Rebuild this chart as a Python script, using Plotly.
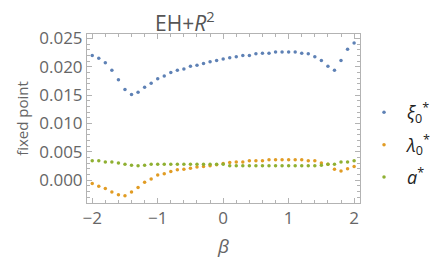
import plotly.graph_objects as go

# beta grid, -2 .. 2 in steps of 0.1
BETA = [round(-2 + 0.1 * i, 1) for i in range(41)]

XI0 = [0.0220, 0.0215, 0.0207, 0.0194, 0.0177, 0.0160, 0.0151, 0.0155, 0.0164, 0.0171,
       0.0179, 0.0184, 0.0190, 0.0194, 0.0196, 0.0201, 0.0203, 0.0206, 0.0209, 0.0211,
       0.0214, 0.0216, 0.0218, 0.0220, 0.0220, 0.0223, 0.0224, 0.0224, 0.0226, 0.0226,
       0.0226, 0.0226, 0.0224, 0.0223, 0.0218, 0.0211, 0.0201, 0.0194, 0.0211, 0.0231,
       0.0242]

LAMBDA0 = [-0.0006, -0.0011, -0.0015, -0.0021, -0.0026, -0.0028, -0.0021, -0.0013, -0.0004, 0.0002,
           0.0009, 0.0011, 0.0015, 0.0018, 0.0019, 0.0021, 0.0023, 0.0024, 0.0025, 0.0027,
           0.0029, 0.0031, 0.0032, 0.0032, 0.0034, 0.0034, 0.0034, 0.0036, 0.0036, 0.0036,
           0.0036, 0.0036, 0.0036, 0.0034, 0.0034, 0.0030, 0.0028, 0.0019, 0.0016, 0.0020,
           0.0024]

A_STAR = [0.0034, 0.0034, 0.0032, 0.0032, 0.0030, 0.0028, 0.0026, 0.0025, 0.0026, 0.0028,
          0.0028, 0.0028, 0.0028, 0.0028, 0.0028, 0.0028, 0.0028, 0.0028, 0.0028, 0.0028,
          0.0028, 0.0025, 0.0025, 0.0025, 0.0025, 0.0025, 0.0025, 0.0025, 0.0025, 0.0025,
          0.0025, 0.0025, 0.0025, 0.0025, 0.0025, 0.0026, 0.0028, 0.0028, 0.0032, 0.0032,
          0.0034]

SERIES = [
    ("<i>ξ</i><sub>0</sub><sup>*</sup>", XI0, "#5E81B5"),
    ("<i>λ</i><sub>0</sub><sup>*</sup>", LAMBDA0, "#E19C24"),
    ("<i>a</i><sup>*</sup>", A_STAR, "#8FB032"),
]

FONT = "Open Sans, DejaVu Sans, sans-serif"
GRAY = "#666666"
FRAME = "#b3b3b3"

fig = go.Figure()
for i, (name, vals, color) in enumerate(SERIES):
    fig.add_trace(go.Scatter(
        x=BETA, y=vals, mode="markers", name=name, legendgroup=str(i),
        marker=dict(color=color, size=3.5),
    ))

axis_common = dict(
    showline=True, linecolor=FRAME, linewidth=1, mirror="ticks",
    ticks="inside", tickcolor=FRAME, ticklen=5, showgrid=False, zeroline=False,
    tickfont=dict(family=FONT, size=17, color=GRAY),
)

fig.update_xaxes(
    range=[-2.08, 2.09], dtick=1, tick0=0,
    minor=dict(dtick=0.2, ticks="inside", ticklen=3, tickcolor=FRAME),
    title=dict(text="<i>β</i>", font=dict(family=FONT, size=19, color=GRAY), standoff=14),
    **axis_common,
)
fig.update_yaxes(
    range=[-0.00406, 0.0258], dtick=0.005, tick0=0, tickformat=".3f",
    minor=dict(dtick=0.001, ticks="inside", ticklen=3, tickcolor=FRAME),
    title=dict(text="fixed point", font=dict(family=FONT, size=15, color=GRAY), standoff=6),
    **axis_common,
)

fig.update_layout(
    width=436, height=259,
    margin=dict(l=87, r=76, t=34, b=56, autoexpand=False),
    paper_bgcolor="white", plot_bgcolor="white",
    title=dict(text="EH+<i>R</i><sup>2</sup>", x=0.424, xanchor="center",
               y=0.91, yanchor="middle", font=dict(family=FONT, size=21, color="#555555")),
    legend=dict(xref="container", yref="container", x=0.828, y=0.44,
                xanchor="left", yanchor="middle",
                font=dict(family=FONT, size=18, color="#222222"),
                tracegroupgap=6, itemsizing="trace", itemwidth=36),
    showlegend=True,
)

# drop the browser's default 8px body margin so the figure sits at the page corner
fig.write_html("out.html", config={"displayModeBar": False},
               post_script="document.body.style.margin = '0';")
